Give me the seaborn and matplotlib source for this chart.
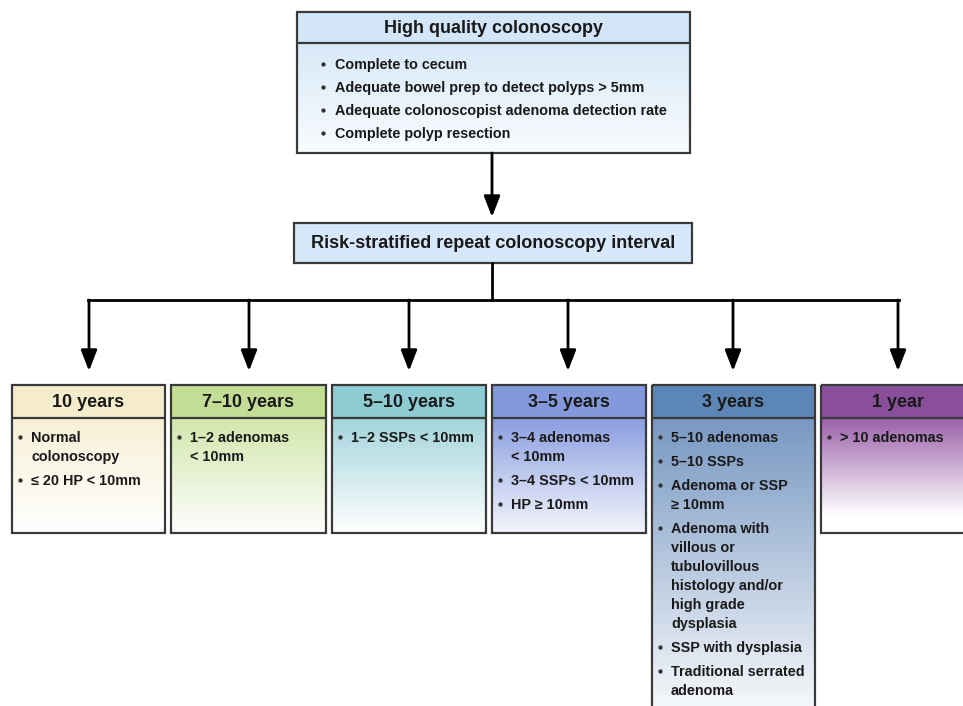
import numpy as np
import seaborn as sns
import matplotlib.pyplot as plt
from matplotlib.patches import Rectangle
from matplotlib.colors import to_rgb

# ---- content ----
top_title = 'High quality colonoscopy'
top_items = ['Complete to cecum',
             'Adequate bowel prep to detect polyps > 5mm',
             'Adequate colonoscopist adenoma detection rate',
             'Complete polyp resection']
mid_title = 'Risk-stratified repeat colonoscopy interval'

intervals = ['10 years', '7–10 years', '5–10 years', '3–5 years', '3 years', '1 year']
criteria = [
    ['Normal\ncolonoscopy', '≤ 20 HP < 10mm'],
    ['1–2 adenomas\n< 10mm'],
    ['1–2 SSPs < 10mm'],
    ['3–4 adenomas\n< 10mm', '3–4 SSPs < 10mm', 'HP ≥ 10mm'],
    ['5–10 adenomas', '5–10 SSPs', 'Adenoma or SSP\n≥ 10mm',
     'Adenoma with\nvillous or\ntubulovillous\nhistology and/or\nhigh grade\ndysplasia',
     'SSP with dysplasia', 'Traditional serrated\nadenoma'],
    ['> 10 adenomas'],
]
header_colors = ['#f4ecca', '#c3dd96', '#8ecbd3', '#8399dc', '#5c86b6', '#8a4f9b']
body_colors = ['#f7f0d6', '#d2e6ab', '#a3d5dc', '#8a9ee0', '#7898c2', '#9a60a9']

# ---- layout ----
box_left = [12, 171, 332, 492, 652, 821]
box_right = [165, 326, 486, 646, 815, 975]
box_bottom = [533, 533, 533, 533, 730, 533]
fade_end = [533, 533, 533, 545, 730, 515]
arrow_x = [89, 249, 409, 568, 733, 898]
box_top, head_bot = 385, 418
body_size = 10.4

sns.set_theme(style='white')
plt.rcParams['font.family'] = ['Liberation Sans', 'DejaVu Sans']
plt.rcParams['font.weight'] = 'bold'

fig = plt.figure(figsize=(9.63, 7.06), dpi=100)
ax = fig.add_axes([0, 0, 1, 1])
edge = '#3a3a3a'


def gradient(x0, x1, y0, y1, y_white, color):
    n = 200
    c = np.array(to_rgb(color))
    t = np.clip(np.linspace(0, (y1 - y0) / (y_white - y0), n), 0, 1)[:, None]
    img = c * (1 - t) + np.ones(3) * t
    ax.imshow(img[:, None, :], extent=(x0, x1, y1, y0), aspect='auto',
              interpolation='bilinear', zorder=1)


def box(x0, x1, y0, y1, zorder=3):
    ax.add_patch(Rectangle((x0, y0), x1 - x0, y1 - y0, fill=False,
                           ec=edge, lw=1.6, zorder=zorder))


def arrow(x, y0, y1):
    ax.annotate('', xy=(x, y1), xytext=(x, y0),
                arrowprops=dict(arrowstyle='-|>,head_length=0.9,head_width=0.35',
                                mutation_scale=14, lw=2, color='black',
                                shrinkA=0, shrinkB=0), zorder=4)


def bullets(items, x_dot, x_text, y_start, line_h, gap):
    y = y_start
    for it in items:
        ax.plot(x_dot, y, 'o', ms=2.1, color='#333333', zorder=5)
        for line in it.split('\n'):
            ax.text(x_text, y + 5, line, fontsize=body_size, va='baseline',
                    ha='left', color='#1a1a1a', zorder=5)
            y += line_h
        y += gap


# top box
tx0, tx1, ty0, ty1, th = 297, 690, 12, 153, 43
ax.add_patch(Rectangle((tx0, ty0), tx1 - tx0, th - ty0, fc='#d3e6f8', ec='none', zorder=2))
gradient(tx0, tx1, th, ty1, ty1 + 20, '#d8e9f8')
box(tx0, tx1, ty0, ty1)
ax.plot([tx0, tx1], [th, th], color=edge, lw=1.6, zorder=3)
ax.text((tx0 + tx1) / 2, (ty0 + th) / 2 + 1, top_title, fontsize=13,
        ha='center', va='center', color='#1a1a1a', zorder=5)
bullets(top_items, 323, 335, 64, 23, 0)

arrow(492, ty1, 217)

# middle box
mx0, mx1, my0, my1 = 294, 692, 223, 263
ax.add_patch(Rectangle((mx0, my0), mx1 - mx0, my1 - my0, fc='#d6e8f9',
                       ec=edge, lw=1.6, zorder=3))
ax.text((mx0 + mx1) / 2, (my0 + my1) / 2 + 1, mid_title, fontsize=13,
        ha='center', va='center', color='#1a1a1a', zorder=5)

# connectors
ax.plot([492, 492], [my1, 300], color='black', lw=2, zorder=4)
ax.plot([arrow_x[0] - 1, arrow_x[-1] + 1], [300, 300], color='black', lw=2,
        solid_capstyle='projecting', zorder=4)
for x in arrow_x:
    arrow(x, 300, 371)

# interval boxes
for i, name in enumerate(intervals):
    x0, x1, y1 = box_left[i], box_right[i], box_bottom[i]
    ax.add_patch(Rectangle((x0, box_top), x1 - x0, head_bot - box_top,
                           fc=header_colors[i], ec='none', zorder=2))
    gradient(x0, x1, head_bot, y1, fade_end[i], body_colors[i])
    box(x0, x1, box_top, y1)
    ax.plot([x0, x1], [head_bot, head_bot], color=edge, lw=1.6, zorder=3)
    ax.text((x0 + x1) / 2, (box_top + head_bot) / 2 + 1, name, fontsize=13,
            ha='center', va='center', color='#1a1a1a', zorder=5)
    bullets(criteria[i], x0 + 8, x0 + 19, 437, 19, 5)

ax.set_xlim(0, 963)
ax.set_ylim(706, 0)
ax.axis('off')
fig.savefig('out.png', dpi=100, facecolor='white')
